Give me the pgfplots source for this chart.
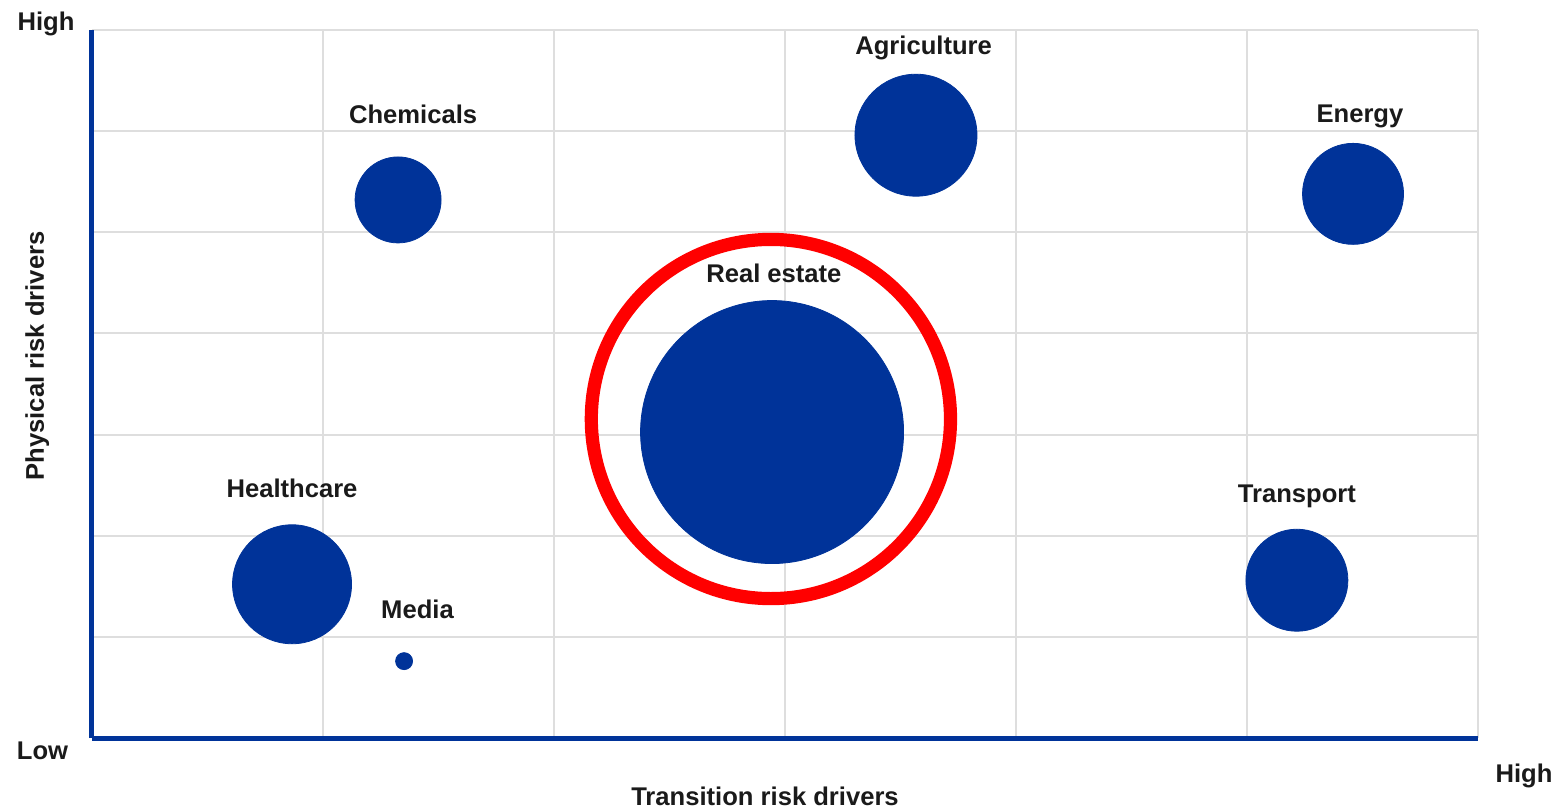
\documentclass[border=0pt]{standalone}
\usepackage{fontspec}
\setmainfont{Liberation Sans}
\usepackage{pgfplots}
\pgfplotsset{compat=1.18}
\usepackage{pgfplotstable}
\definecolor{ecbblue}{HTML}{003399}
\definecolor{gridgrey}{HTML}{DEDEDE}
\definecolor{txt}{HTML}{1A1A1A}

\pgfplotstableread{
x      y      r
1.325  5.32   21.5
3.567  5.96   30.5
5.459  5.38   25.25
2.944  3.025  65.75
0.866  1.52   29.75
1.351  0.76   4.25
5.216  1.56   25.5
}\bubbles

\begin{document}
\begin{tikzpicture}[font=\fontsize{12.8}{15}\selectfont\bfseries, every node/.style={text=txt}]
\useasboundingbox (-46pt,-36.5pt) rectangle (733.5pt,369pt);
\begin{axis}[
  at={(0,0)}, anchor=south west,
  scale only axis, width=693pt, height=354pt,
  xmin=0, xmax=6, ymin=0, ymax=7,
  axis x line=bottom, axis y line=left,
  axis line style={-, line width=2.5pt, color=ecbblue},
  xtick={0,1,...,6}, ytick={0,1,...,7},
  xticklabels={}, yticklabels={},
  major tick length=0pt,
  grid=major,
  major grid style={gridgrey, line width=1pt},
  clip=false,
]
\addplot[scatter, only marks, mark=*,
  scatter/use mapped color={draw=ecbblue, fill=ecbblue},
  visualization depends on={\thisrow{r} \as \rad},
  scatter/@pre marker code/.append style={/tikz/mark size=\rad pt}]
  table[x=x, y=y] {\bubbles};
\addplot[only marks, mark=o, mark size=89.8pt, draw=red,
  mark options={line width=6.6pt, draw=red}]
  coordinates {(2.939,3.154)};

\node[anchor=base] at (axis cs:1.39,6.08) {Chemicals};
\node[anchor=base] at (axis cs:3.600,6.753) {Agriculture};
\node[anchor=base] at (axis cs:5.489,6.09) {Energy};
\node[anchor=base] at (axis cs:2.952,4.508) {Real estate};
\node[anchor=base] at (axis cs:0.866,2.373) {Healthcare};
\node[anchor=base] at (axis cs:1.409,1.186) {Media};
\node[anchor=base] at (axis cs:5.216,2.333) {Transport};
\end{axis}
\node[anchor=base] at (-23pt,353.5pt) {High};
\node[anchor=base] at (-24.75pt,-10.5pt) {Low};
\node[anchor=base] at (716pt,-22pt) {High};
\node[anchor=base] at (336.5pt,-33.5pt) {Transition risk drivers};
\node[anchor=base, rotate=90] at (-24pt,191pt) {Physical risk drivers};
\end{tikzpicture}
\end{document}
